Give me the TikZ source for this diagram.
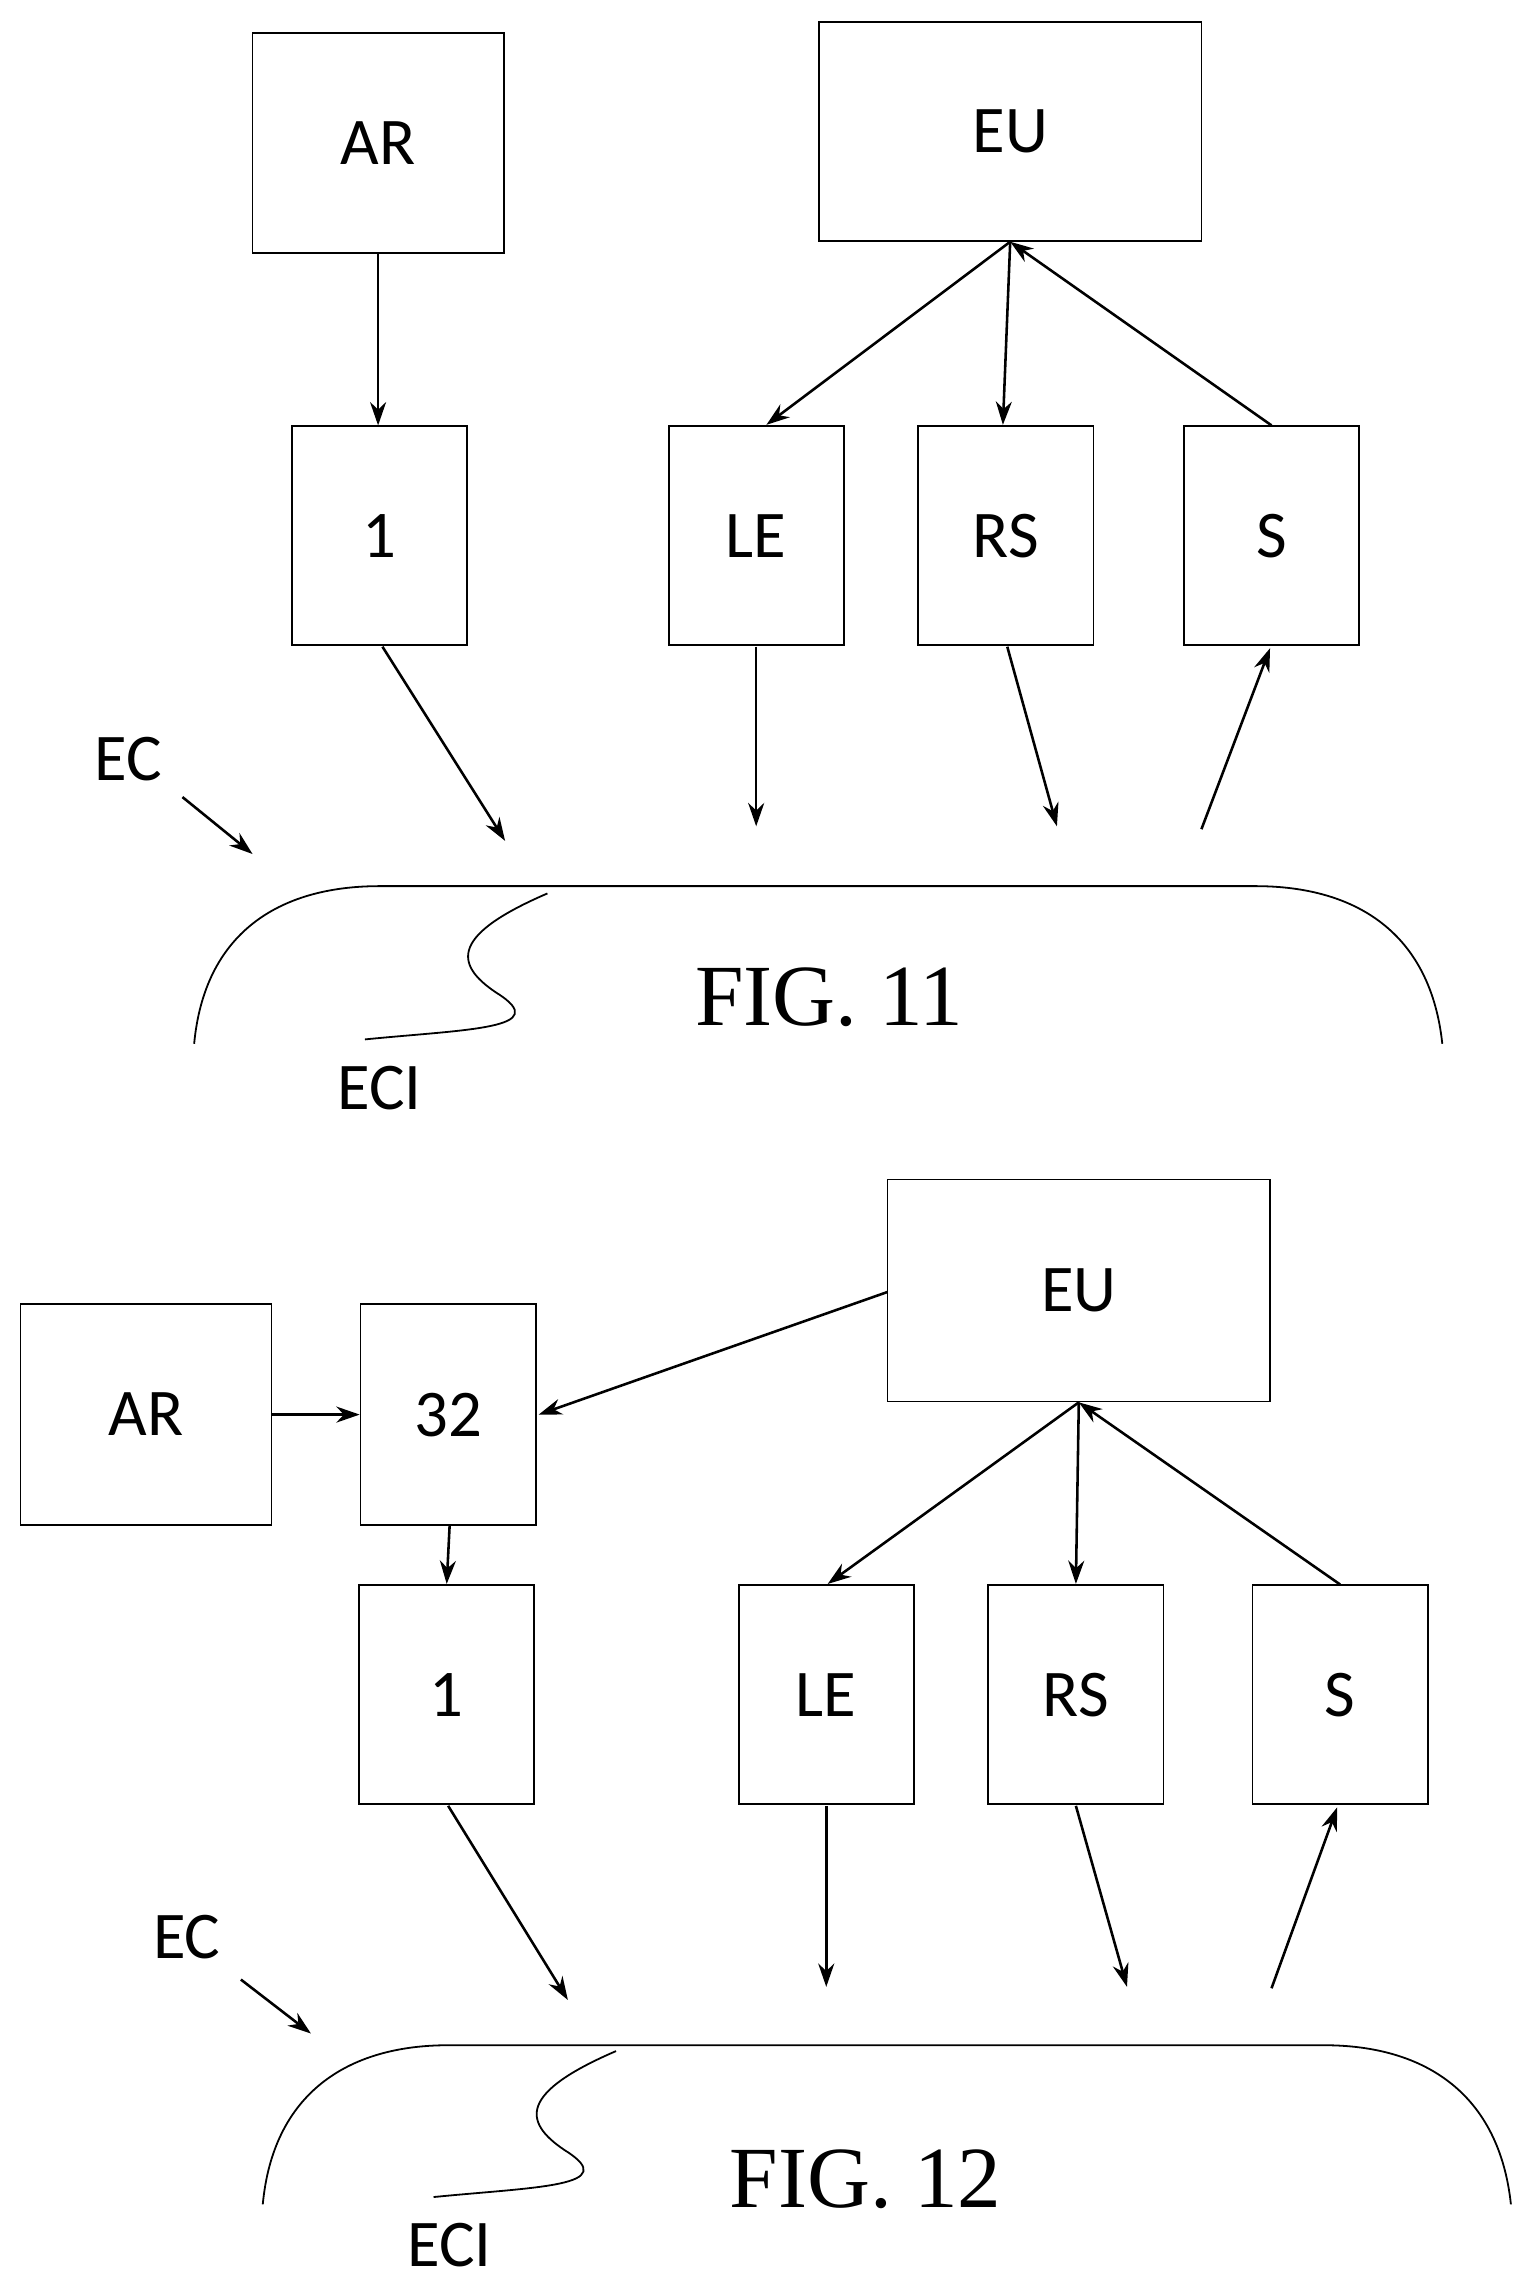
\documentclass[tikz,border=0pt]{standalone}
\usepackage{fontspec}
\setmainfont{Carlito}
\newfontfamily\figfont{Liberation Serif}
\usetikzlibrary{arrows.meta}
\begin{document}
\begin{tikzpicture}[x=0.1mm,y=-0.1mm,
 box/.style={draw,line width=0.35pt,inner sep=0pt,font=\fontsize{13}{15}\selectfont},
 arr/.style={-{Stealth[length=1.6mm,width=1.1mm]},line width=0.5pt},
 lbl/.style={font=\fontsize{13}{15}\selectfont},
 fig/.style={font=\figfont\fontsize{17}{19}\selectfont},
 thin/.style={line width=0.35pt}]
\useasboundingbox (0,0) rectangle (1050,1568);
% FIG 11
\node[box,minimum width=17.2mm,minimum height=15.1mm] (ar1) at (259,98) {AR};
\node[box,minimum width=26.2mm,minimum height=15mm] (eu1) at (692,90) {EU};
\node[box,minimum width=12mm,minimum height=15mm] (one1) at (260,367) {1};
\node[box,minimum width=12mm,minimum height=15mm] (le1) at (518,367) {LE};
\node[box,minimum width=12mm,minimum height=15mm] (rs1) at (689,367) {RS};
\node[box,minimum width=12mm,minimum height=15mm] (s1) at (871,367) {S};
\coordinate (a1) at (346,576); \coordinate (b1) at (518,566);
\coordinate (c1) at (724,566); \coordinate (d1) at (823,568);
\coordinate (ecs1) at (125,546); \coordinate (ece1) at (173,585);
\draw[arr] (ar1.south) -- (one1.north-|ar1.south);
\draw[arr] (eu1.south) -- (525,291);
\draw[arr] (eu1.south) -- (687,291);
\draw[arr] (s1.north) -- (eu1.south);
\draw[arr] (262,443) -- (a1);
\draw[arr] (518,443) -- (b1);
\draw[arr] (690,443) -- (c1);
\draw[arr] (d1) -- (870,444);
\node[lbl] (ec1) at (88,520) {EC};
\draw[arr] (ecs1) -- (ece1);
\draw[thin] (133,715) .. controls (140,640) and (190,607) .. (260,607) -- (860,607) .. controls (930,607) and (980,640) .. (988,715);
\draw[thin] (375,612) .. controls (310,640) and (310,660) .. (340,680) .. controls (380,705) and (320,705) .. (250,712);
\node[lbl] (eci1) at (260,745) {ECI};
\node[fig] (f11) at (568,683) {FIG. 11};
% FIG 12
\node[box,minimum width=17.2mm,minimum height=15.1mm] (ar2) at (100,969) {AR};
\node[box,minimum width=12mm,minimum height=15.1mm] (n32) at (307,969) {32};
\node[box,minimum width=26.2mm,minimum height=15.2mm] (eu2) at (739,884) {EU};
\node[box,minimum width=12mm,minimum height=15mm] (one2) at (306,1161) {1};
\node[box,minimum width=12mm,minimum height=15mm] (le2) at (566,1161) {LE};
\node[box,minimum width=12mm,minimum height=15mm] (rs2) at (737,1161) {RS};
\node[box,minimum width=12mm,minimum height=15mm] (s2) at (918,1161) {S};
\coordinate (a2) at (389,1370); \coordinate (b2) at (566,1361);
\coordinate (c2) at (772,1361); \coordinate (d2) at (871,1362);
\coordinate (ecs2) at (165,1356); \coordinate (ece2) at (213,1393);
\draw[arr] (ar2.east) -- (n32.west);
\draw[arr] (608,885) -- (369,969);
\draw[arr] (308,1045) -- (306,1085);
\draw[arr] (eu2.south) -- (567,1085);
\draw[arr] (eu2.south) -- (737,1085);
\draw[arr] (s2.north) -- (eu2.south);
\draw[arr] (307,1237) -- (a2);
\draw[arr] (566,1237) -- (b2);
\draw[arr] (737,1237) -- (c2);
\draw[arr] (d2) -- (916,1238);
\node[lbl] (ec2) at (128,1327) {EC};
\draw[arr] (ecs2) -- (ece2);
\draw[thin] (180,1510) .. controls (187,1435) and (237,1401) .. (307,1401) -- (907,1401) .. controls (977,1401) and (1027,1435) .. (1035,1510);
\draw[thin] (422,1405) .. controls (357,1433) and (357,1453) .. (387,1473) .. controls (427,1498) and (367,1498) .. (297,1505);
\node[lbl] (eci2) at (308,1538) {ECI};
\node[fig] (f12) at (593,1493) {FIG. 12};
\end{tikzpicture}
\end{document}
